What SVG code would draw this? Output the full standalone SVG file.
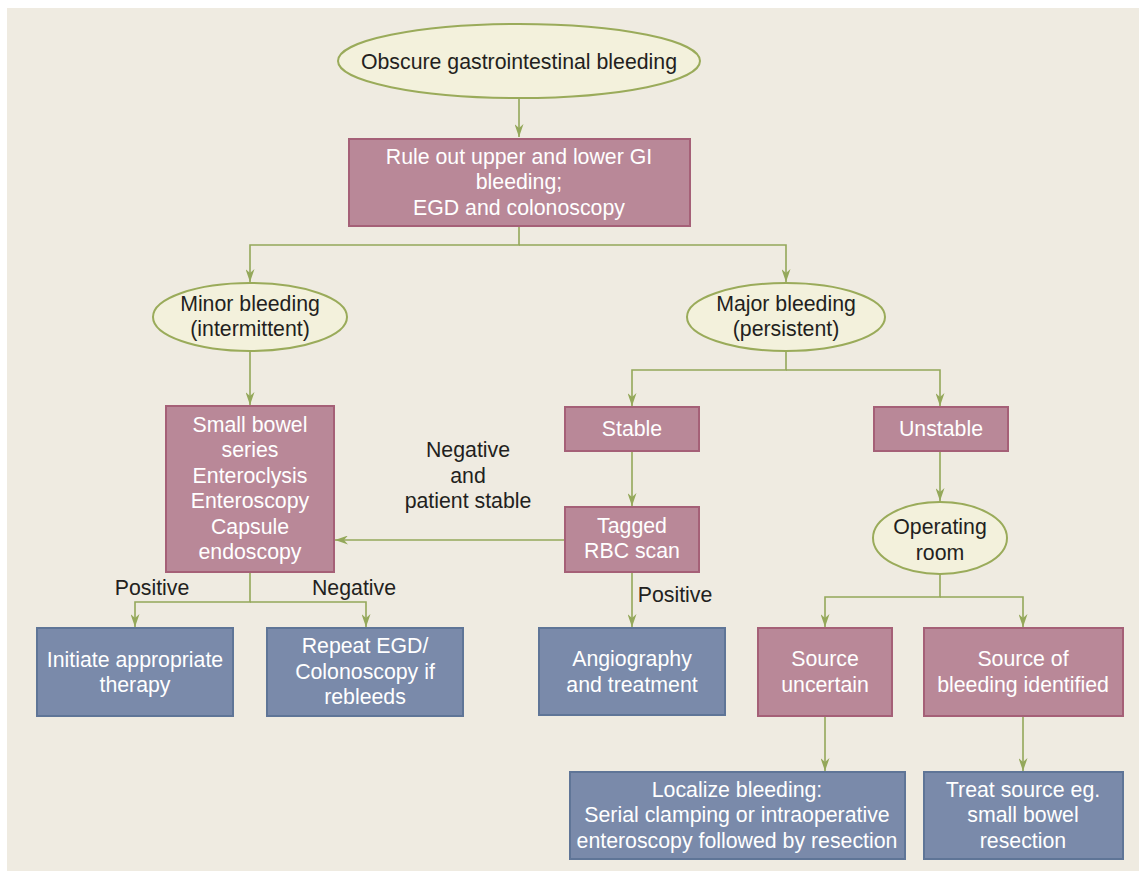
<svg xmlns="http://www.w3.org/2000/svg" width="1139" height="871" viewBox="0 0 1139 871">
<defs>
<marker id="ah" viewBox="0 0 13 9" refX="13" refY="4.5" markerWidth="13" markerHeight="9" markerUnits="userSpaceOnUse" orient="auto">
<path d="M0,0 L13,4.5 L0,9 L4,4.5 Z" fill="#94a85a"/>
</marker>
<style>
.t{font-family:"Liberation Sans",Arial,Helvetica,sans-serif;font-size:21.3px;text-anchor:middle}
.d{fill:#231f20}
.w{fill:#ffffff}
.ell{fill:#f3f1dc;stroke:#9aab5a;stroke-width:2}
.pk{fill:#b98898;stroke:#a56077;stroke-width:2}
.bl{fill:#7a8aaa;stroke:#5f7597;stroke-width:2}
.c{fill:none;stroke:#94a85a;stroke-width:1.6}
</style>
</defs>
<rect x="0" y="0" width="1139" height="871" fill="#ffffff"/>
<rect x="7" y="8" width="1132" height="863" fill="#efebe1"/>

<g id="connectors">
<path class="c" d="M519,98 V137" marker-end="url(#ah)"/>
<path class="c" d="M519,227 V245 H250 V282" marker-end="url(#ah)"/>
<path class="c" d="M519,245 H786 V282" marker-end="url(#ah)"/>
<path class="c" d="M250,351 V405" marker-end="url(#ah)"/>
<path class="c" d="M786,351 V370 H632 V406" marker-end="url(#ah)"/>
<path class="c" d="M786,370 H940 V406" marker-end="url(#ah)"/>
<path class="c" d="M632,451 V506" marker-end="url(#ah)"/>
<path class="c" d="M565,540 H335" marker-end="url(#ah)"/>
<path class="c" d="M632,572 V627" marker-end="url(#ah)"/>
<path class="c" d="M250,572 V602 H135 V627" marker-end="url(#ah)"/>
<path class="c" d="M250,602 H366 V627" marker-end="url(#ah)"/>
<path class="c" d="M940,451 V501" marker-end="url(#ah)"/>
<path class="c" d="M940,574 V597 H825 V627" marker-end="url(#ah)"/>
<path class="c" d="M940,597 H1023 V627" marker-end="url(#ah)"/>
<path class="c" d="M825,716 V771" marker-end="url(#ah)"/>
<path class="c" d="M1023,716 V771" marker-end="url(#ah)"/>
</g>

<g id="labels">
<text class="t d" x="468" y="457">Negative</text>
<text class="t d" x="468" y="483">and</text>
<text class="t d" x="468" y="508">patient stable</text>
<text class="t d" x="152" y="595">Positive</text>
<text class="t d" x="354" y="595">Negative</text>
<text class="t d" x="675" y="602">Positive</text>
</g>

<g id="n-obscure">
<ellipse class="ell" cx="519" cy="61" rx="181" ry="37"/>
<text class="t d" x="519" y="69">Obscure gastrointestinal bleeding</text>
</g>

<g id="n-ruleout">
<rect class="pk" x="349" y="139" width="341" height="87"/>
<text class="t w" x="519" y="164">Rule out upper and lower GI</text>
<text class="t w" x="519" y="189">bleeding;</text>
<text class="t w" x="519" y="215">EGD and colonoscopy</text>
</g>

<g id="n-minor">
<ellipse class="ell" cx="250" cy="317" rx="97" ry="34"/>
<text class="t d" x="250" y="311">Minor bleeding</text>
<text class="t d" x="250" y="336">(intermittent)</text>
</g>

<g id="n-major">
<ellipse class="ell" cx="786" cy="317" rx="99" ry="34"/>
<text class="t d" x="786" y="311">Major bleeding</text>
<text class="t d" x="786" y="336">(persistent)</text>
</g>

<g id="n-smallbowel">
<rect class="pk" x="166" y="406" width="168" height="166"/>
<text class="t w" x="250" y="432">Small bowel</text>
<text class="t w" x="250" y="457">series</text>
<text class="t w" x="250" y="483">Enteroclysis</text>
<text class="t w" x="250" y="508">Enteroscopy</text>
<text class="t w" x="250" y="534">Capsule</text>
<text class="t w" x="250" y="559">endoscopy</text>
</g>

<g id="n-stable">
<rect class="pk" x="565" y="407" width="134" height="44"/>
<text class="t w" x="632" y="436">Stable</text>
</g>

<g id="n-unstable">
<rect class="pk" x="874" y="407" width="134" height="44"/>
<text class="t w" x="941" y="436">Unstable</text>
</g>

<g id="n-tagged">
<rect class="pk" x="565" y="507" width="134" height="65"/>
<text class="t w" x="632" y="533">Tagged</text>
<text class="t w" x="632" y="558">RBC scan</text>
</g>

<g id="n-operating">
<ellipse class="ell" cx="940" cy="538" rx="67" ry="36"/>
<text class="t d" x="940" y="534">Operating</text>
<text class="t d" x="940" y="560">room</text>
</g>

<g id="n-initiate">
<rect class="bl" x="37" y="628" width="196" height="88"/>
<text class="t w" x="135" y="667">Initiate appropriate</text>
<text class="t w" x="135" y="692">therapy</text>
</g>

<g id="n-repeat">
<rect class="bl" x="267" y="628" width="196" height="88"/>
<text class="t w" x="365" y="653">Repeat EGD/</text>
<text class="t w" x="365" y="679">Colonoscopy if</text>
<text class="t w" x="365" y="704">rebleeds</text>
</g>

<g id="n-angio">
<rect class="bl" x="539" y="628" width="186" height="87"/>
<text class="t w" x="632" y="666">Angiography</text>
<text class="t w" x="632" y="692">and treatment</text>
</g>

<g id="n-uncertain">
<rect class="pk" x="758" y="628" width="134" height="88"/>
<text class="t w" x="825" y="666">Source</text>
<text class="t w" x="825" y="692">uncertain</text>
</g>

<g id="n-identified">
<rect class="pk" x="924" y="628" width="199" height="88"/>
<text class="t w" x="1023" y="666">Source of</text>
<text class="t w" x="1023" y="692">bleeding identified</text>
</g>

<g id="n-localize">
<rect class="bl" x="570" y="772" width="335" height="87"/>
<text class="t w" x="737" y="797">Localize bleeding:</text>
<text class="t w" x="737" y="822">Serial clamping or intraoperative</text>
<text class="t w" x="737" y="848">enteroscopy followed by resection</text>
</g>

<g id="n-treat">
<rect class="bl" x="924" y="772" width="199" height="87"/>
<text class="t w" x="1023" y="797">Treat source eg.</text>
<text class="t w" x="1023" y="822">small bowel</text>
<text class="t w" x="1023" y="848">resection</text>
</g>
</svg>
